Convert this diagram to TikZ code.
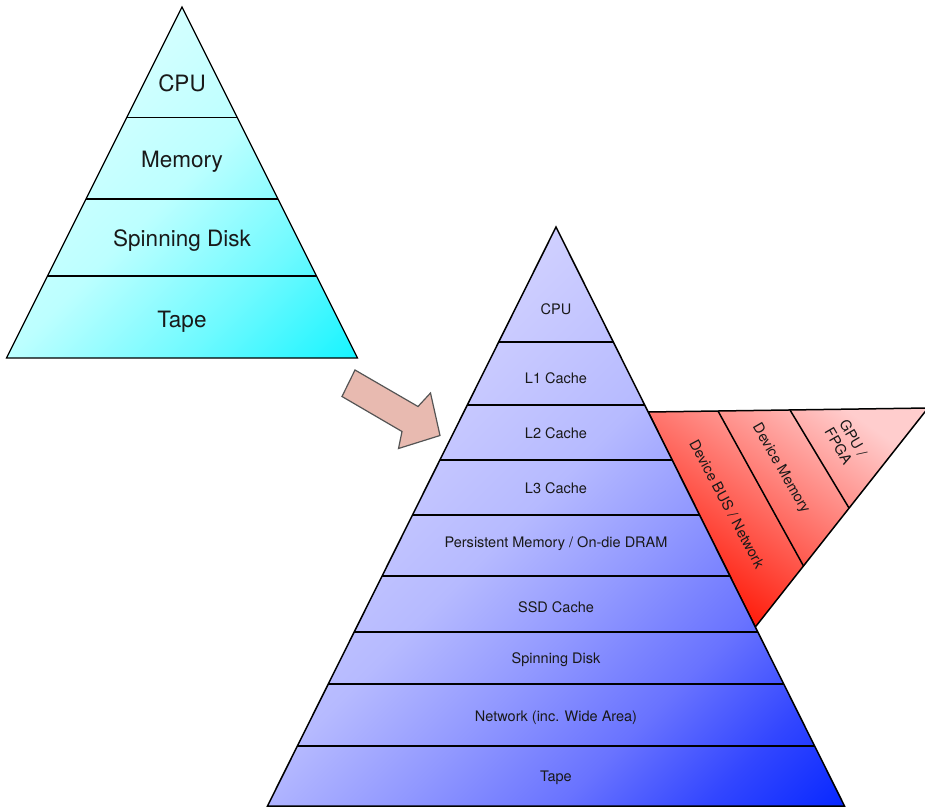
\documentclass[tikz,border=0pt]{standalone}
\usepackage{fontspec}
\setmainfont{TeX Gyre Heros}
\definecolor{bA}{RGB}{8,40,255}
\definecolor{bB}{RGB}{50,70,255}
\definecolor{bB2}{RGB}{105,115,255}
\definecolor{bC}{RGB}{145,152,255}
\definecolor{bD}{RGB}{182,186,255}
\definecolor{bE}{RGB}{208,208,255}
\definecolor{cA}{RGB}{22,244,255}
\definecolor{cB}{RGB}{110,250,255}
\definecolor{cC}{RGB}{188,255,255}
\definecolor{cD}{RGB}{212,255,255}
\definecolor{redlight}{RGB}{255,205,205}
\definecolor{reddark}{RGB}{255,18,0}
\definecolor{arrowfill}{RGB}{232,186,176}
\definecolor{arrowline}{RGB}{85,85,85}
\definecolor{txt}{RGB}{25,25,25}
\pgfdeclareverticalshading{bluegrad}{100bp}{color(0bp)=(bA); color(14.6bp)=(bA); color(23bp)=(bB); color(32bp)=(bB2); color(42bp)=(bC); color(52bp)=(bD); color(68bp)=(bE); color(100bp)=(bE)}
\pgfdeclareverticalshading{cyangrad}{100bp}{color(0bp)=(cA); color(14.6bp)=(cA); color(32bp)=(cB); color(50bp)=(cC); color(68bp)=(cD); color(100bp)=(cD)}
\begin{document}
\begin{tikzpicture}[x=1pt,y=-1pt,
  bigfont/.style={font=\fontsize{22.5}{27}\selectfont, text=txt, text height=16.2pt, text depth=0pt, inner sep=0pt},
  smallfont/.style={font=\fontsize{14.5}{17}\selectfont, text=txt, text height=10.4pt, text depth=0pt, inner sep=0pt},
  twoline/.style={font=\fontsize{14.5}{17}\selectfont, text=txt, align=center, inner sep=0pt},
  edge/.style={draw=black, line width=1.5pt, line join=miter},
  thinedge/.style={draw=black, line width=1.2pt, line join=miter}]
\useasboundingbox (0,0) rectangle (925,811);
% ---------- small cyan pyramid ----------
\def\sx{182}\def\sy{7}\def\ss{0.5}
\shade[shading=cyangrad, shading angle=45]
  (\sx,\sy) -- ({\sx+\ss*(358-\sy)},358) -- ({\sx-\ss*(358-\sy)},358) -- cycle;
\foreach \yy in {117.5,199,276}{
  \draw[thinedge] ({\sx-\ss*(\yy-\sy)},\yy) -- ({\sx+\ss*(\yy-\sy)},\yy);
}
\draw[thinedge] (\sx,\sy) -- ({\sx+\ss*(358-\sy)},358) -- ({\sx-\ss*(358-\sy)},358) -- cycle;
\node[bigfont] (s1) at (182,83) {CPU};
\node[bigfont] (s2) at (182,159) {Memory};
\node[bigfont] (s3) at (182,238) {Spinning Disk};
\node[bigfont] (s4) at (182,319) {Tape};
% ---------- arrow ----------
\filldraw[fill=arrowfill, draw=arrowline, line width=1.2pt, line join=miter]
  (355,370) -- (418,406.5) -- (430.5,393) -- (440,435.5) -- (398.5,448.5) -- (402,431.5) -- (342,396.5) -- cycle;
% ---------- red side triangle ----------
\def\bx{556}\def\by{227}\def\bs{0.4983}
\shade[top color=redlight, bottom color=reddark, shading angle=-35]
  ({\bx+\bs*(412-\by)},412) -- (928,408) -- ({\bx+\bs*(627-\by)},627) -- cycle;
\draw[edge] (718,411) -- (803.5,566);
\draw[edge] (790,410) -- (849,508);
\draw[edge] ({\bx+\bs*(412-\by)},412) -- (928,408) -- ({\bx+\bs*(627-\by)},627) -- cycle;
\node[smallfont, rotate=-62] (r1) at (727,504) {Device BUS / Network};
\node[smallfont, rotate=-60] (r2) at (782,468) {Device Memory};
\node[twoline, rotate=-60] (r3) at (846,442) {GPU /\\FPGA};
% ---------- large blue pyramid ----------
\shade[shading=bluegrad, shading angle=45]
  (\bx,\by) -- ({\bx+\bs*(806-\by)},806) -- ({\bx-\bs*(806-\by)},806) -- cycle;
\foreach \yy in {342,405,460,515,576,632,684,746}{
  \draw[edge] ({\bx-\bs*(\yy-\by)},\yy) -- ({\bx+\bs*(\yy-\by)},\yy);
}
\draw[edge] (\bx,\by) -- ({\bx+\bs*(806-\by)},806) -- ({\bx-\bs*(806-\by)},806) -- cycle;
\node[smallfont] (b1) at (556,309) {CPU};
\node[smallfont] (b2) at (556,378) {L1 Cache};
\node[smallfont] (b3) at (556,433) {L2 Cache};
\node[smallfont] (b4) at (556,488) {L3 Cache};
\node[smallfont] (b5) at (556,542) {Persistent Memory / On-die DRAM};
\node[smallfont] (b6) at (556,607) {SSD Cache};
\node[smallfont] (b7) at (556,658) {Spinning Disk};
\node[smallfont] (b8) at (556,716) {Network (inc. Wide Area)};
\node[smallfont] (b9) at (556,776) {Tape};
\end{tikzpicture}
\end{document}
